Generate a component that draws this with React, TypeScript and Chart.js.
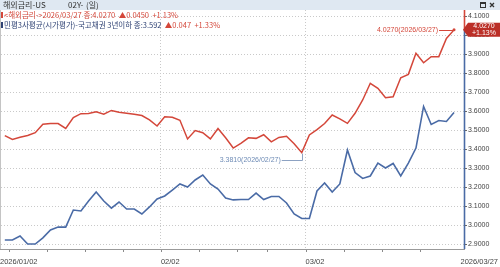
import React, { useEffect, useRef } from "react";
import { Chart, registerables } from "chart.js";

Chart.register(...registerables);

// ---------- data ----------
const dates: string[] = [
  "2026/01/02", "2026/01/05", "2026/01/06", "2026/01/07", "2026/01/08", "2026/01/09",
  "2026/01/12", "2026/01/13", "2026/01/14", "2026/01/15", "2026/01/16",
  "2026/01/19", "2026/01/20", "2026/01/21", "2026/01/22", "2026/01/23",
  "2026/01/26", "2026/01/27", "2026/01/28", "2026/01/29", "2026/01/30",
  "2026/02/02", "2026/02/03", "2026/02/04", "2026/02/05", "2026/02/06",
  "2026/02/09", "2026/02/10", "2026/02/11", "2026/02/12", "2026/02/13",
  "2026/02/17", "2026/02/18", "2026/02/19", "2026/02/20",
  "2026/02/23", "2026/02/24", "2026/02/25", "2026/02/26", "2026/02/27",
  "2026/03/02", "2026/03/03", "2026/03/04", "2026/03/05", "2026/03/06",
  "2026/03/09", "2026/03/10", "2026/03/11", "2026/03/12", "2026/03/13",
  "2026/03/16", "2026/03/17", "2026/03/18", "2026/03/19", "2026/03/20",
  "2026/03/23", "2026/03/24", "2026/03/25", "2026/03/26", "2026/03/27",
];

const usYields: number[] = [
  3.470, 3.450, 3.462, 3.471, 3.486, 3.530, 3.534, 3.534, 3.508, 3.566,
  3.586, 3.587, 3.596, 3.583, 3.603, 3.593, 3.588, 3.583, 3.576, 3.553,
  3.521, 3.570, 3.567, 3.551, 3.453, 3.497, 3.486, 3.453, 3.508, 3.459,
  3.405, 3.430, 3.459, 3.456, 3.475, 3.438, 3.461, 3.467, 3.428, 3.381,
  3.474, 3.502, 3.534, 3.579, 3.559, 3.535, 3.588, 3.658, 3.746, 3.719,
  3.670, 3.675, 3.775, 3.793, 3.904, 3.854, 3.886, 3.886, 3.982, 4.027,
];

const krYields: number[] = [
  2.921, 2.921, 2.942, 2.900, 2.900, 2.932, 2.974, 2.989, 2.989, 3.079,
  3.074, 3.126, 3.174, 3.126, 3.089, 3.121, 3.084, 3.084, 3.058, 3.095,
  3.137, 3.153, 3.184, 3.216, 3.200, 3.237, 3.263, 3.216, 3.189, 3.142,
  3.132, 3.134, 3.134, 3.168, 3.134, 3.150, 3.150, 3.116, 3.058, 3.034,
  3.034, 3.179, 3.221, 3.174, 3.216, 3.395, 3.276, 3.245, 3.258, 3.326,
  3.300, 3.324, 3.258, 3.326, 3.405, 3.624, 3.529, 3.550, 3.545, 3.592,
];

const yTicks: number[] = [2.9, 3.0, 3.1, 3.2, 3.3, 3.4, 3.5, 3.6, 3.7, 3.8, 3.9, 4.0, 4.1];

const headerTitle = "해외금리-US";
const headerCode = "02Y-";
const headerPeriod = "(일)";
const usName = "<해외금리->";
const krName = "민평3사평균(시가평가)-국고채권 3년이하";

// ---------- style ----------
const RED = "#d4473a";
const BLUE = "#4a6ba6";
const GRID = "#c9c9c9";
const NUM_FONT = '"Liberation Sans", Arial, sans-serif';
const KR_FONT = '"Noto Sans CJK KR", "Noto Sans", sans-serif';

const Y_MIN = 2.8737;
const Y_MAX = 4.1316;

function dayOfWeek(s: string) {
  const [y, m, d] = s.split("/").map(Number);
  return new Date(y, m - 1, d).getDay();
}

const monthStarts: number[] = dates
  .map((d, i) => (i === 0 || d.slice(5, 7) !== dates[i - 1].slice(5, 7) ? i : -1))
  .filter((i) => i >= 0);
const weekStarts: number[] = dates
  .map((d, i) => (i > 0 && dayOfWeek(d) < dayOfWeek(dates[i - 1]) ? i : -1))
  .filter((i) => i >= 0);

function pct(a: number, b: number) {
  return ((a - b) / b) * 100;
}

const overlay = {
  id: "overlay",
  beforeDraw(chart: any) {
    const ctx = chart.ctx;
    ctx.save();
    ctx.fillStyle = "#ffffff";
    ctx.fillRect(0, 0, chart.width, chart.height);
    ctx.restore();
  },
  afterDraw(chart: any) {
    const { ctx, chartArea: ca } = chart;
    const xs = chart.scales.x;
    const ys = chart.scales.y;
    const n = dates.length;
    ctx.save();

    // header bar
    ctx.fillStyle = "#dfe8f2";
    ctx.fillRect(0, 0, chart.width, 10);
    ctx.font = `8px ${KR_FONT}`;
    ctx.fillStyle = "#333";
    ctx.textBaseline = "middle";
    ctx.textAlign = "left";
    ctx.fillText(headerTitle, 3, 5);
    ctx.fillText(headerCode, 68, 5);
    ctx.fillText(headerPeriod, 86, 5);
    // window icons
    ctx.strokeStyle = "#333";
    ctx.lineWidth = 1;
    ctx.strokeRect(480.5, 2.5, 5, 5);
    ctx.beginPath();
    ctx.moveTo(480.5, 3.5);
    ctx.lineTo(485.5, 3.5);
    ctx.stroke();
    ctx.lineWidth = 1.3;
    ctx.beginPath();
    ctx.moveTo(490, 3);
    ctx.lineTo(494, 7);
    ctx.moveTo(494, 3);
    ctx.lineTo(490, 7);
    ctx.stroke();

    // legend
    const usLast = usYields[n - 1];
    const usPrev = usYields[n - 2];
    const krLast = krYields[n - 1];
    const krPrev = krYields[n - 2];
    ctx.fillStyle = RED;
    ctx.fillRect(1, 12, 2, 6);
    ctx.fillStyle = "#2f4274";
    ctx.fillRect(1, 22, 2, 6);
    ctx.font = `7.5px ${KR_FONT}`;
    ctx.fillStyle = RED;
    ctx.fillText(
      `${usName}${dates[n - 1]} 종:${usLast.toFixed(4)}  ▲${(usLast - usPrev).toFixed(4)}  +${pct(usLast, usPrev).toFixed(2)}%`,
      4,
      15
    );
    ctx.fillStyle = "#2f4274";
    ctx.fillText(`${krName} 종:${krLast.toFixed(3)}`, 4, 25.5);
    const w2 = ctx.measureText(`${krName} 종:${krLast.toFixed(3)}  `).width;
    ctx.fillStyle = RED;
    ctx.fillText(`▲${(krLast - krPrev).toFixed(3)}  +${pct(krLast, krPrev).toFixed(2)}%`, 4 + w2, 25.5);

    // left border and bottom axis line
    ctx.strokeStyle = "#c4c4c4";
    ctx.lineWidth = 1;
    ctx.beginPath();
    ctx.moveTo(0.5, 10);
    ctx.lineTo(0.5, ca.bottom);
    ctx.stroke();
    ctx.strokeStyle = "#9a9a9a";
    ctx.beginPath();
    ctx.moveTo(0, ca.bottom + 0.5);
    ctx.lineTo(ca.right, ca.bottom + 0.5);
    ctx.stroke();

    // x minor ticks
    ctx.strokeStyle = "#8a8a8a";
    ctx.beginPath();
    [...monthStarts.slice(1), ...weekStarts].forEach((i) => {
      const px = Math.round(xs.getPixelForValue(i - 0.5)) + 0.5;
      ctx.moveTo(px, ca.bottom + 1);
      ctx.lineTo(px, ca.bottom + 3);
    });
    ctx.stroke();

    // x labels
    ctx.font = `7.5px ${NUM_FONT}`;
    ctx.fillStyle = "#444";
    ctx.textBaseline = "middle";
    monthStarts.forEach((i, k) => {
      const px = k === 0 ? 0 : xs.getPixelForValue(i - 0.5);
      ctx.textAlign = "left";
      ctx.fillText(k === 0 ? dates[i] : dates[i].slice(5), px, 261.5);
    });
    ctx.textAlign = "right";
    ctx.fillText(dates[n - 1], 498, 261.5);

    // right axis line
    ctx.lineWidth = 1.6;
    ctx.strokeStyle = BLUE;
    ctx.beginPath();
    ctx.moveTo(ca.right - 0.5, 30);
    ctx.lineTo(ca.right - 0.5, ca.bottom);
    ctx.stroke();
    ctx.strokeStyle = RED;
    ctx.beginPath();
    ctx.moveTo(ca.right - 0.5, 10);
    ctx.lineTo(ca.right - 0.5, 30);
    ctx.stroke();
    // y tick marks
    ctx.lineWidth = 1;
    ctx.strokeStyle = "#666";
    ctx.beginPath();
    yTicks.forEach((v) => {
      const py = Math.round(ys.getPixelForValue(v)) + 0.5;
      ctx.moveTo(ca.right, py);
      ctx.lineTo(ca.right + 2, py);
    });
    ctx.stroke();

    // max annotation (US)
    let maxI = 0;
    let minI = 0;
    usYields.forEach((v, i) => {
      if (v > usYields[maxI]) maxI = i;
      if (v < usYields[minI]) minI = i;
    });
    const mx = xs.getPixelForValue(maxI);
    const my = ys.getPixelForValue(usYields[maxI]);
    ctx.font = `7px ${NUM_FONT}`;
    ctx.fillStyle = RED;
    ctx.strokeStyle = RED;
    ctx.textAlign = "right";
    ctx.textBaseline = "middle";
    ctx.fillText(`${usYields[maxI].toFixed(4)}(${dates[maxI]})`, mx - 16, my + 0.5);
    ctx.beginPath();
    ctx.moveTo(mx - 15, Math.round(my) + 0.5);
    ctx.lineTo(mx - 1, Math.round(my) + 0.5);
    ctx.stroke();
    ctx.beginPath();
    ctx.arc(mx, my, 1.5, 0, Math.PI * 2);
    ctx.fill();

    // min annotation (US)
    const nx = xs.getPixelForValue(minI);
    const ny = ys.getPixelForValue(usYields[minI]);
    const ly = Math.round(ny + 7.5) + 0.5;
    ctx.fillStyle = "#6f8cb6";
    ctx.strokeStyle = "#8da2c2";
    ctx.fillText(`${usYields[minI].toFixed(4)}(${dates[minI]})`, nx - 21, ly);
    ctx.beginPath();
    ctx.moveTo(nx - 20, ly);
    ctx.lineTo(Math.round(nx) + 0.5, ly);
    ctx.lineTo(Math.round(nx) + 0.5, ny + 1);
    ctx.stroke();

    // current value box (US)
    const cy = ys.getPixelForValue(usLast);
    ctx.fillStyle = "#bb2f27";
    ctx.beginPath();
    ctx.moveTo(ca.right - 2, cy);
    ctx.lineTo(ca.right + 3, cy - 7);
    ctx.lineTo(chart.width, cy - 7);
    ctx.lineTo(chart.width, cy + 7);
    ctx.lineTo(ca.right + 3, cy + 7);
    ctx.closePath();
    ctx.fill();
    ctx.fillStyle = "#ffffff";
    ctx.textAlign = "center";
    ctx.font = `7px ${NUM_FONT}`;
    ctx.fillText(usLast.toFixed(4), 484, cy - 3.5);
    ctx.fillText(`+${pct(usLast, usPrev).toFixed(2)}%`, 484, cy + 3.5);

    ctx.restore();
  },
};

export default function App() {
  const ref = useRef<HTMLCanvasElement | null>(null);
  useEffect(() => {
    document.body.style.margin = "0";
    const canvas = ref.current;
    if (!canvas) return;
    const n = dates.length;
    const chart = new Chart(canvas, {
      type: "line",
      data: {
        datasets: [
          {
            label: krName,
            data: krYields.map((v, i) => ({ x: i, y: v })),
            borderColor: BLUE,
            borderWidth: 1.6,
            pointRadius: 0,
            tension: 0,
          },
          {
            label: usName,
            data: usYields.map((v, i) => ({ x: i, y: v })),
            borderColor: RED,
            borderWidth: 1.5,
            pointRadius: 0,
            tension: 0,
          },
        ],
      },
      options: {
        responsive: false,
        animation: false,
        events: [],
        layout: { padding: { left: 1, top: 10, right: 0, bottom: 0 } },
        plugins: { legend: { display: false }, tooltip: { enabled: false } },
        scales: {
          x: {
            type: "linear",
            min: -0.5,
            max: n + 0.44,
            afterFit: (s: any) => {
              s.height = 18;
            },
            afterBuildTicks: (s: any) => {
              s.ticks = monthStarts.slice(1).map((i) => ({ value: i - 0.5 }));
            },
            ticks: { display: false },
            grid: { color: GRID, drawTicks: false, lineWidth: 1 },
            border: { display: false, dash: [1, 2] },
          },
          y: {
            position: "right",
            min: Y_MIN,
            max: Y_MAX,
            afterFit: (s: any) => {
              s.width = 35;
            },
            afterBuildTicks: (s: any) => {
              s.ticks = yTicks.map((v) => ({ value: v }));
            },
            ticks: {
              color: "#444",
              font: { family: NUM_FONT, size: 7 },
              padding: 3,
              callback: (v: any) => Number(v).toFixed(4),
            },
            grid: { color: GRID, drawTicks: false, lineWidth: 1 },
            border: { display: false, dash: [1, 2] },
          },
        },
      },
      plugins: [overlay],
    } as any);
    return () => chart.destroy();
  }, []);
  return (
    <div style={{ width: 500, height: 267 }}>
      <canvas ref={ref} width={500} height={267} style={{ display: "block" }} />
    </div>
  );
}
